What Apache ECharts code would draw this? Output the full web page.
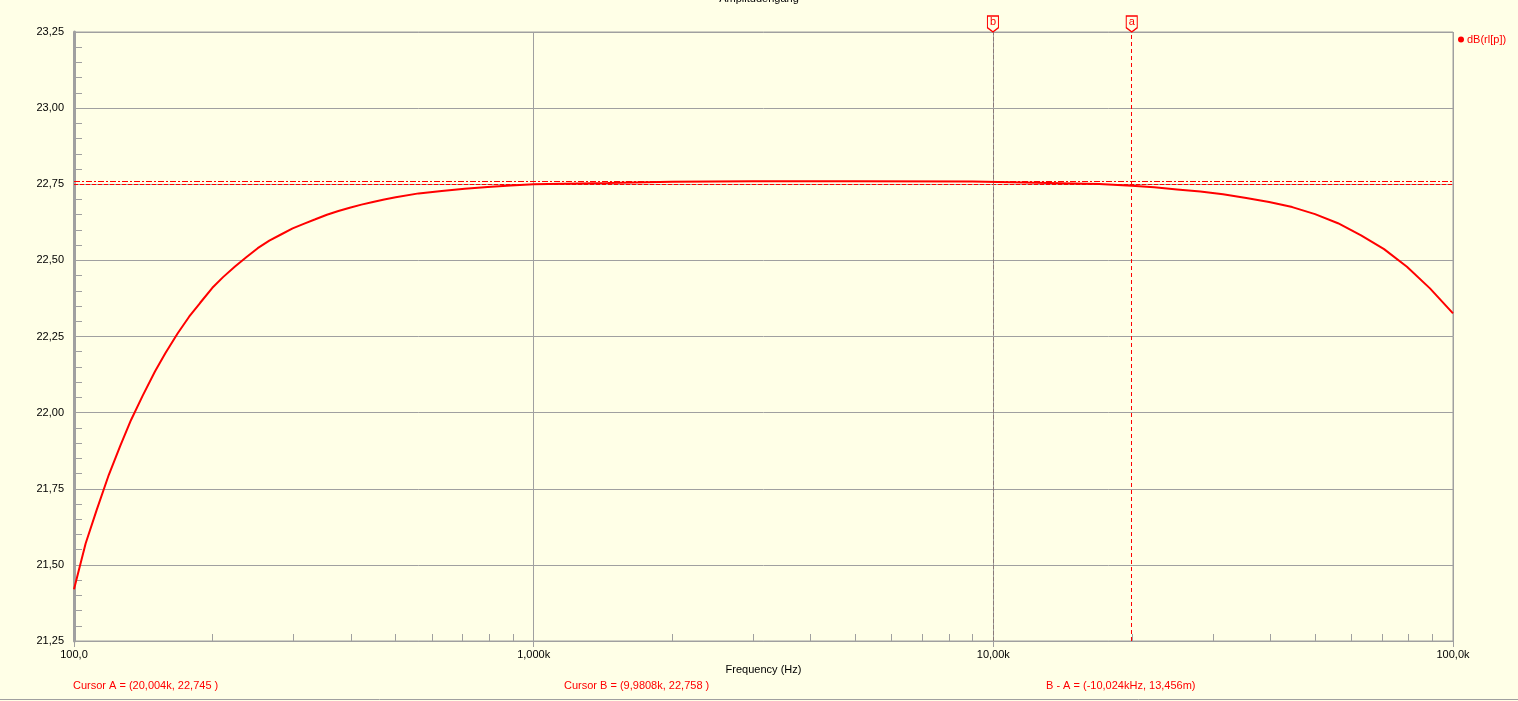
<!DOCTYPE html>
<html>
<head>
<meta charset="utf-8">
<script src="https://cdn.jsdelivr.net/npm/echarts@6/dist/echarts.min.js"></script>
<style>
html,body{margin:0;padding:0;background:#FFFFE7;}
#chart{width:1518px;height:701px;}
</style>
</head>
<body>
<div id="chart"></div>
<script>
// ---- data ----
const freqHz = [100,106,112,119,126,133,141,150,158,168,178,188,200,211,224,237,251,266,282,299,316,335,355,376,398,422,447,473,501,562,631,708,794,891,1000,1450,2000,3000,5000,9000,12400,17000,20000,22400,25100,28200,31600,35500,39800,44700,50100,56200,63100,70800,79400,89100,100000];
const gainDb = [21.42,21.57,21.68,21.795,21.89,21.975,22.055,22.135,22.195,22.26,22.315,22.36,22.41,22.445,22.48,22.51,22.54,22.565,22.585,22.605,22.62,22.635,22.65,22.662,22.673,22.683,22.692,22.70,22.707,22.72,22.728,22.735,22.741,22.746,22.750,22.754,22.758,22.760,22.760,22.759,22.755,22.751,22.745,22.740,22.733,22.726,22.717,22.705,22.692,22.675,22.652,22.622,22.582,22.537,22.479,22.408,22.326];
const xTickValues = [100,1000,10000,100000];
const xTickLabels = ['100,0','1,000k','10,00k','100,0k'];
const xMinorTicks = [200,300,400,500,600,700,800,900,2000,3000,4000,5000,6000,7000,8000,9000,20000,30000,40000,50000,60000,70000,80000,90000];
const yMin = 21.25, yMax = 23.25, yStep = 0.25;
const cursorA = [20004, 22.745];
const cursorB = [9980.8, 22.758];
const seriesName = 'dB(rl[p])';
const titleText = 'Amplitudengang';
const xName = 'Frequency (Hz)';
const cursorTexts = ['Cursor A = (20,004k, 22,745 )','Cursor B = (9,9808k, 22,758 )','B - A = (-10,024kHz, 13,456m)'];

const bg = '#FFFFE7';
const gridGray = '#A0A0A0';
const red = '#FF0000';
const font = 'Arial, "Liberation Sans", sans-serif';

const chart = echarts.init(document.getElementById('chart'));
chart.setOption({
  backgroundColor: bg,
  animation: false,
  textStyle: {fontFamily: font},
  grid: {left: 74, right: 65, top: 32, bottom: 60, show: true, borderColor: gridGray, borderWidth: 1, backgroundColor: bg},
  legend: {
    data: [seriesName], left: 1458, top: 34, padding: 0, icon: 'circle', itemWidth: 6, itemHeight: 6, itemGap: 2,
    textStyle: {color: red, fontSize: 11, fontFamily: font, padding: [0,0,0,-2]}
  },
  xAxis: {
    type: 'log', logBase: 10, min: 100, max: 100000,
    name: xName, nameLocation: 'middle', nameGap: 22,
    nameTextStyle: {color: '#000', fontSize: 11, fontFamily: font},
    axisLine: {show: true, lineStyle: {color: gridGray, width: 1}},
    axisTick: {show: true, inside: false, length: 6, lineStyle: {color: gridGray}},
    axisLabel: {color: '#000', fontSize: 11, fontFamily: font, margin: 8,
      formatter: v => { const i = xTickValues.findIndex(t => Math.abs(t - v) / t < 1e-6); return i >= 0 ? xTickLabels[i] : ''; }},
    splitLine: {show: true, lineStyle: {color: gridGray, width: 1}}
  },
  yAxis: {
    type: 'value', min: yMin, max: yMax, interval: yStep,
    axisLine: {show: true, onZero: false, lineStyle: {color: gridGray, width: 3}},
    axisTick: {show: true, inside: true, length: 8, lineStyle: {color: gridGray}},
    minorTick: {show: true, splitNumber: 5, length: 8, lineStyle: {color: gridGray}},
    axisLabel: {color: '#000', fontSize: 11, fontFamily: font, margin: 10,
      formatter: v => v.toFixed(2).replace('.', ',')},
    splitLine: {show: true, lineStyle: {color: gridGray, width: 1}}
  },
  series: [
    {
      name: seriesName, type: 'line', showSymbol: false, smooth: false, clip: false,
      data: freqHz.map((f, i) => [f, gainDb[i]]),
      lineStyle: {color: red, width: 2},
      itemStyle: {color: red},
      z: 5,
      markLine: {
        silent: true, symbol: 'none', label: {show: false}, animation: false,
        lineStyle: {color: red, width: 1, type: [4,2], opacity: 1},
        data: [
          {yAxis: cursorB[1], lineStyle: {color: red, width: 1, type: [6,2,2,2]}},
          {yAxis: cursorA[1], lineStyle: {color: red, width: 1, type: [4,2]}},
          {xAxis: cursorB[0], lineStyle: {color: '#8A7A7A', width: 1, type: [4,2]}},
          {xAxis: cursorA[0], lineStyle: {color: red, width: 1, type: [4,3]}}
        ]
      },
      markPoint: {
        silent: true, animation: false,
        symbol: 'path://M0,0L10,0L10,11L5,15L0,11Z', symbolSize: [11, 16], symbolOffset: [0, -8],
        itemStyle: {color: bg, borderColor: red, borderWidth: 1.2},
        label: {show: true, color: red, fontSize: 11, fontFamily: font, offset: [0, -2], formatter: p => p.name},
        data: [
          {name: 'b', coord: [cursorB[0], yMax]},
          {name: 'a', coord: [cursorA[0], yMax]}
        ]
      }
    },
    {
      name: 'minorX', type: 'custom', silent: true, z: 3,
      data: xMinorTicks.map(f => [f, yMin]),
      renderItem: (params, api) => {
        const p = api.coord([api.value(0), api.value(1)]);
        const x = Math.round(p[0]) + 0.5;
        return {type: 'line', shape: {x1: x, y1: p[1], x2: x, y2: p[1] - 7}, style: {stroke: gridGray, lineWidth: 1}};
      }
    }
  ],
  graphic: [
    {type: 'text', left: 'center', top: -7, style: {text: titleText, fill: '#000', font: '11px ' + font}},
    {type: 'text', left: 73, top: 680, style: {text: cursorTexts[0], fill: red, font: '11px ' + font}},
    {type: 'text', left: 564, top: 680, style: {text: cursorTexts[1], fill: red, font: '11px ' + font}},
    {type: 'text', left: 1046, top: 680, style: {text: cursorTexts[2], fill: red, font: '11px ' + font}},
    {type: 'line', shape: {x1: 0, y1: 699.5, x2: 1518, y2: 699.5}, style: {stroke: gridGray, lineWidth: 1}}
  ]
});
</script>
</body>
</html>
